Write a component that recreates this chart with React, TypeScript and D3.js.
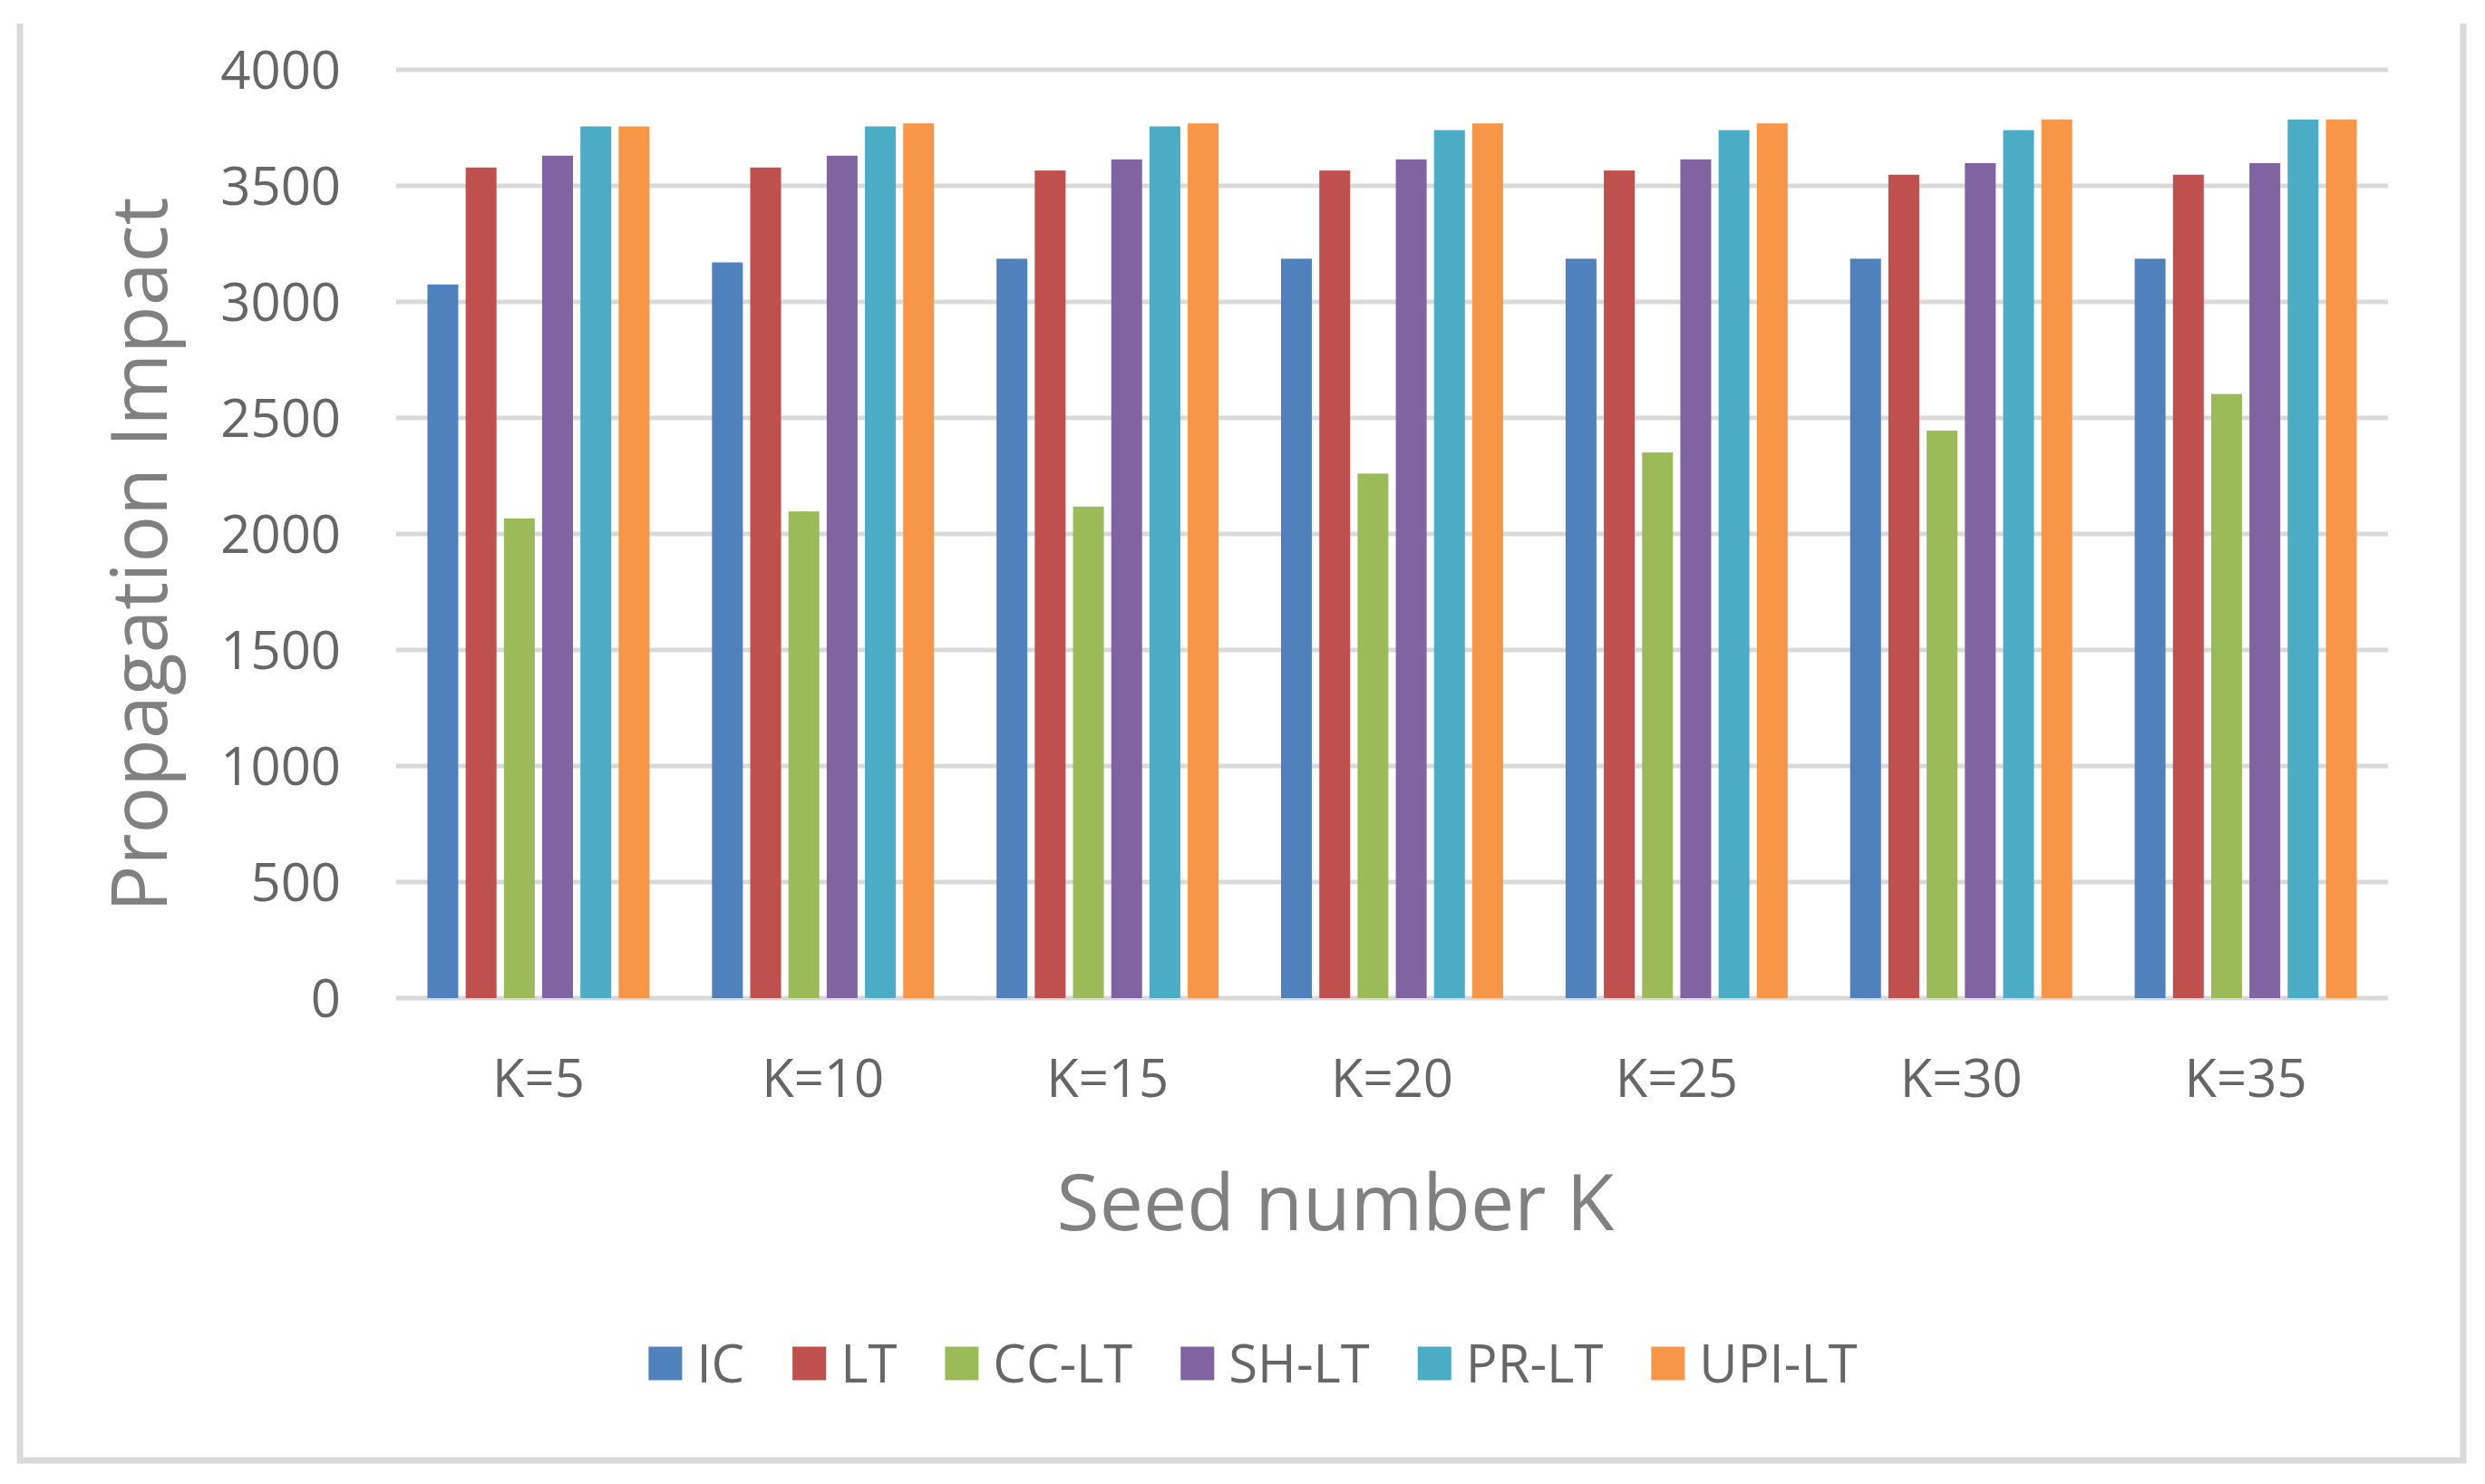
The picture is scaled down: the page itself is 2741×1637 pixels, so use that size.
import { useEffect, useRef } from "react";
import * as d3 from "d3";

const categories = ["K=5", "K=10", "K=15", "K=20", "K=25", "K=30", "K=35"];
const seriesNames = ["IC", "LT", "CC-LT", "SH-LT", "PR-LT", "UPI-LT"];
const seriesColors = ["#4f81bd", "#c0504d", "#9bbb59", "#8064a2", "#4bacc6", "#f79646"];

const icValues = [3075, 3170, 3186, 3186, 3186, 3186, 3186];
const ltValues = [3579, 3579, 3566, 3566, 3566, 3548, 3548];
const ccLtValues = [2067, 2097, 2118, 2260, 2351, 2445, 2603];
const shLtValues = [3630, 3630, 3614, 3614, 3614, 3598, 3598];
const prLtValues = [3756, 3756, 3756, 3740, 3740, 3740, 3786];
const upiLtValues = [3756, 3769, 3769, 3769, 3769, 3786, 3786];

const yTicks = [0, 500, 1000, 1500, 2000, 2500, 3000, 3500, 4000];

const allSeries = [icValues, ltValues, ccLtValues, shLtValues, prLtValues, upiLtValues];

const WIDTH = 2741;
const HEIGHT = 1637;
const FONT = "'Open Sans', 'Noto Sans', sans-serif";

export default function App() {
  const svgRef = useRef<SVGSVGElement>(null);

  useEffect(() => {
    if (!svgRef.current) return;
    const svg = d3.select(svgRef.current);
    svg.selectAll("*").remove();

    const plot = { left: 437, right: 2634, top: 77, bottom: 1101 };

    const x0 = d3.scaleBand<string>().domain(categories).range([plot.left, plot.right]);
    const x1 = d3.scaleBand<string>().domain(seriesNames)
      .range([0, x0.bandwidth()]).paddingInner(0.194).paddingOuter(0.817);
    const y = d3.scaleLinear().domain([0, 4000]).range([plot.bottom, plot.top]);

    // background
    svg.append("rect").attr("width", WIDTH).attr("height", HEIGHT).attr("fill", "#fff");

    // chart border (top edge is cut off in the source)
    svg.append("path")
      .attr("d", `M22,26 V1611 H2717 V26`)
      .attr("fill", "none").attr("stroke", "#d9d9d9").attr("stroke-width", 7);

    // gridlines
    svg.append("g").selectAll("line").data(yTicks).enter().append("line")
      .attr("x1", plot.left).attr("x2", plot.right)
      .attr("y1", d => y(d)).attr("y2", d => y(d))
      .attr("stroke", "#d9d9d9").attr("stroke-width", 5);

    // bars
    const groups = svg.append("g").selectAll("g").data(categories).enter().append("g")
      .attr("transform", d => `translate(${x0(d)},0)`);
    groups.selectAll("rect")
      .data((_, ci) => seriesNames.map((s, si) => ({ s, si, v: allSeries[si][ci] })))
      .enter().append("rect")
      .attr("x", d => x1(d.s)!)
      .attr("width", x1.bandwidth())
      .attr("y", d => y(d.v))
      .attr("height", d => y(0) - y(d.v))
      .attr("fill", d => seriesColors[d.si]);

    // y tick labels
    svg.append("g").selectAll("text").data(yTicks).enter().append("text")
      .attr("x", 376).attr("y", d => y(d))
      .attr("dy", "0.36em")
      .attr("text-anchor", "end")
      .attr("font-family", FONT).attr("font-size", 58).attr("fill", "#666")
      .text(d => String(d));

    // category labels
    svg.append("g").selectAll("text").data(categories).enter().append("text")
      .attr("x", d => x0(d)! + x0.bandwidth() / 2).attr("y", 1210)
      .attr("text-anchor", "middle")
      .attr("font-family", FONT).attr("font-size", 58).attr("fill", "#666")
      .text(d => d);

    // axis titles
    svg.append("text")
      .attr("transform", "translate(184,612) rotate(-90)")
      .attr("text-anchor", "middle")
      .attr("font-family", FONT).attr("font-size", 86).attr("fill", "#808080")
      .text("Propagation Impact");
    svg.append("text")
      .attr("x", 1473).attr("y", 1357)
      .attr("text-anchor", "middle")
      .attr("font-family", FONT).attr("font-size", 86).attr("fill", "#808080")
      .text("Seed number K");

    // legend
    const sq = 37, gapText = 16, gapItem = 53, legendCx = 1382, legendCy = 1504;
    const legend = svg.append("g");
    const items = legend.selectAll("g").data(seriesNames).enter().append("g");
    items.append("rect")
      .attr("width", sq).attr("height", sq).attr("y", legendCy - sq / 2)
      .attr("fill", (_, i) => seriesColors[i]);
    const labels = items.append("text")
      .attr("x", sq + gapText).attr("y", legendCy).attr("dy", "0.36em")
      .attr("font-family", FONT).attr("font-size", 58).attr("fill", "#666")
      .text(d => d);
    const widths: number[] = [];
    labels.each(function () { widths.push((this as SVGTextElement).getComputedTextLength()); });
    const itemW = widths.map(w => sq + gapText + w);
    const total = d3.sum(itemW) + gapItem * (itemW.length - 1);
    let cursor = legendCx - total / 2;
    items.attr("transform", (_, i) => {
      const t = `translate(${cursor},0)`;
      cursor += itemW[i] + gapItem;
      return t;
    });
  }, []);

  return (
    <svg
      ref={svgRef}
      width={WIDTH}
      height={HEIGHT}
      style={{ position: "absolute", left: 0, top: 0, display: "block" }}
    />
  );
}
